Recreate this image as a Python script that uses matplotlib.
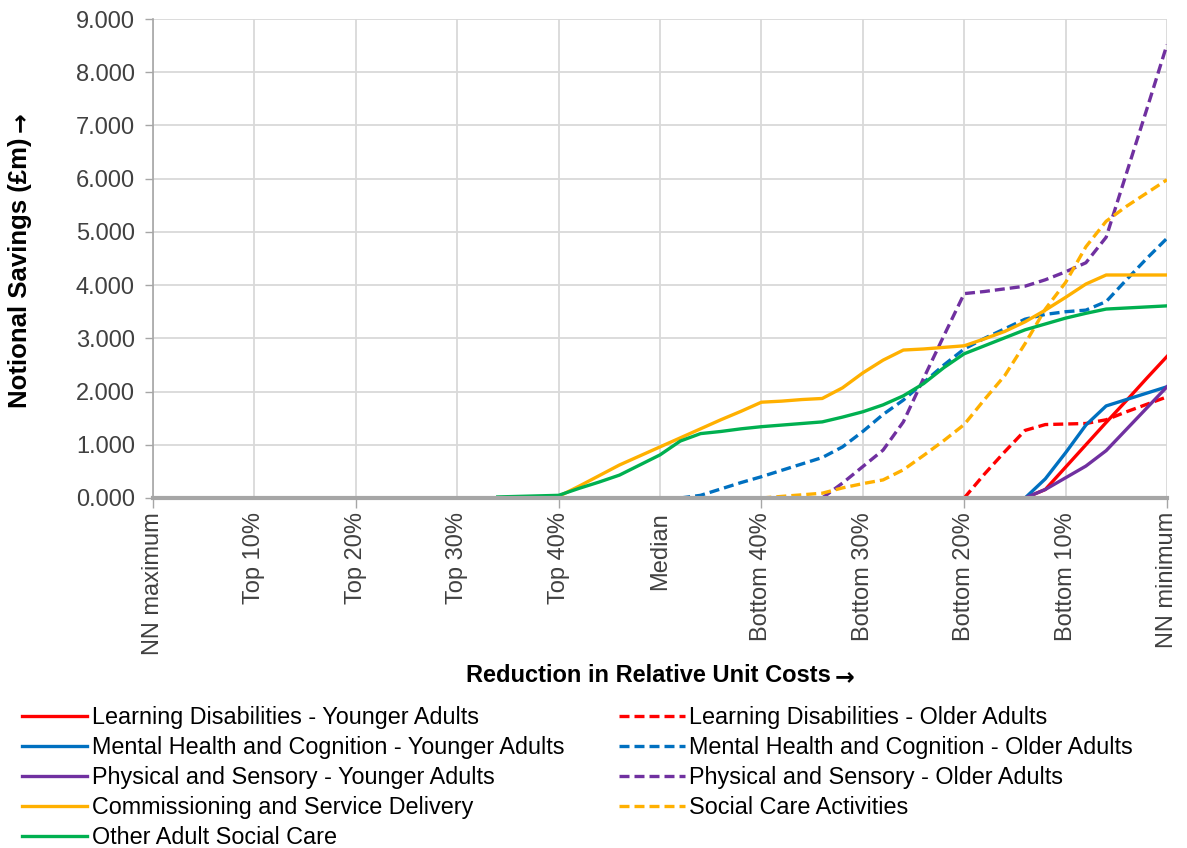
import numpy as np
import matplotlib
matplotlib.use("Agg")
import matplotlib.pyplot as plt
from matplotlib.ticker import FixedLocator, FuncFormatter

plt.rcParams['font.family'] = ['Liberation Sans', 'DejaVu Sans']

# 51 points along the x axis, labelled every 5th
n_points = 51
tick_labels = ["NN maximum", "Top 10%", "Top 20%", "Top 30%", "Top 40%", "Median",
               "Bottom 40%", "Bottom 30%", "Bottom 20%", "Bottom 10%", "NN minimum"]

# each series: first index where it starts, then values from there on
ld_young_start = 43
ld_young = [0.0, 0.16, 0.58, 1.0, 1.42, 1.83, 2.25, 2.66]
ld_old_start = 40
ld_old = [0.0, 0.45, 0.87, 1.27, 1.38, 1.39, 1.40, 1.47, 1.62, 1.76, 1.90]
mh_young_start = 43
mh_young = [0.0, 0.36, 0.85, 1.37, 1.73, 1.85, 1.97, 2.09]
mh_old_start = 26
mh_old = [0.0, 0.05, 0.17, 0.29, 0.40, 0.52, 0.64, 0.76, 0.96, 1.25, 1.57, 1.84, 2.17,
          2.50, 2.80, 3.00, 3.18, 3.36, 3.45, 3.50, 3.53, 3.69, 4.10, 4.50, 4.88]
ps_young_start = 43
ps_young = [0.0, 0.16, 0.38, 0.60, 0.89, 1.29, 1.69, 2.09]
ps_old_start = 33
ps_old = [0.0, 0.28, 0.59, 0.90, 1.43, 2.25, 3.05, 3.84, 3.88, 3.93, 3.98, 4.10, 4.25,
          4.42, 4.90, 6.10, 7.30, 8.52]
csd_start = 20
csd = [0.03, 0.22, 0.42, 0.62, 0.79, 0.96, 1.13, 1.30, 1.47, 1.63, 1.80, 1.82, 1.85,
       1.87, 2.07, 2.35, 2.59, 2.78, 2.80, 2.83, 2.86, 2.99, 3.13, 3.31, 3.53, 3.77,
       4.02, 4.19, 4.19, 4.19, 4.19]
sca_start = 30
sca = [0.0, 0.03, 0.06, 0.09, 0.19, 0.27, 0.34, 0.53, 0.80, 1.08, 1.38, 1.85, 2.30,
       2.90, 3.55, 4.05, 4.72, 5.20, 5.48, 5.73, 5.98]
oasc_start = 17
oasc = [0.02, 0.03, 0.04, 0.05, 0.18, 0.30, 0.43, 0.62, 0.81, 1.07, 1.21, 1.25, 1.30,
        1.34, 1.37, 1.40, 1.43, 1.52, 1.62, 1.75, 1.92, 2.15, 2.45, 2.71, 2.86, 3.01,
        3.16, 3.27, 3.38, 3.47, 3.55, 3.57, 3.59, 3.61]


def pad(start, vals):
    out = np.full(n_points, np.nan)
    out[start:start + len(vals)] = vals
    return out


red = '#FF0000'
blue = '#0070C0'
purple = '#7030A0'
orange = '#FFB000'
green = '#00B050'
grey = '#A6A6A6'

# (label, data, colour, dashed) in drawing order
series = [
    ("Learning Disabilities - Younger Adults", pad(ld_young_start, ld_young), red, False),
    ("Learning Disabilities - Older Adults", pad(ld_old_start, ld_old), red, True),
    ("Mental Health and Cognition - Younger Adults", pad(mh_young_start, mh_young), blue, False),
    ("Mental Health and Cognition - Older Adults", pad(mh_old_start, mh_old), blue, True),
    ("Physical and Sensory - Younger Adults", pad(ps_young_start, ps_young), purple, False),
    ("Physical and Sensory - Older Adults", pad(ps_old_start, ps_old), purple, True),
    ("Commissioning and Service Delivery", pad(csd_start, csd), orange, False),
    ("Social Care Activities", pad(sca_start, sca), orange, True),
    ("Other Adult Social Care", pad(oasc_start, oasc), green, False),
]

W, H = 1187, 848
fig = plt.figure(figsize=(W / 100, H / 100), dpi=100)
ax = fig.add_axes([153 / W, 1 - 498 / H, (1167 - 153) / W, (498 - 19) / H])

x = np.arange(n_points)
handles = {}
for label, vals, col, dashed in series:
    if dashed:
        ln, = ax.plot(x, vals, color=col, lw=2.4, dashes=(3.0, 1.5), label=label)
    else:
        ln, = ax.plot(x, vals, color=col, lw=2.4, label=label)
    handles[label] = ln

ax.set_xlim(0, n_points - 1)
ax.set_ylim(0, 9)

# y axis
ax.set_yticks(range(0, 10))
ax.yaxis.set_major_formatter(FuncFormatter(lambda v, p: f"{v:.3f}"))
ax.tick_params(axis='y', length=6, width=1, color=grey, labelsize=17, labelcolor='#404040', pad=7)

# x axis: labels + grid every 5 points, tick marks every 10
ax.set_xticks(range(0, n_points, 5))
ax.set_xticklabels(tick_labels, rotation=90, va='top', ha='center')
ax.tick_params(axis='x', which='major', length=0, labelsize=17, labelcolor='#404040', pad=10)
ax.xaxis.set_minor_locator(FixedLocator(range(0, n_points, 10)))
ax.xaxis.remove_overlapping_locs = False
ax.tick_params(axis='x', which='minor', length=7, width=1, color=grey)

ax.grid(True, which='major', color='#D9D9D9', lw=1.3)
ax.set_axisbelow(True)
for s in ['top', 'right']:
    ax.spines[s].set_visible(False)
ax.spines['left'].set_color(grey)
ax.spines['left'].set_linewidth(1.2)
ax.spines['bottom'].set_color(grey)
ax.spines['bottom'].set_linewidth(3)

# axis titles, arrow drawn in DejaVu so it is full size
ytitle = fig.text(20 / W, 1 - 408 / H, "Notional Savings (£m)", rotation=90,
                  ha='center', va='bottom', fontsize=18.5, fontweight='bold')
fig.canvas.draw()
bb = ytitle.get_window_extent(fig.canvas.get_renderer())
fig.text(20 / W, (bb.y1 + 5) / H, "→", rotation=90, family='DejaVu Sans',
         ha='center', va='bottom', fontsize=17, fontweight='bold')
fig.text(831 / W, 1 - 676 / H, "Reduction in Relative Unit Costs",
         ha='right', va='center', fontsize=17, fontweight='bold')
fig.text(835 / W, 1 - 677 / H, "→", family='DejaVu Sans',
         ha='left', va='center', fontsize=17, fontweight='bold')

order = ["Learning Disabilities - Younger Adults",
         "Mental Health and Cognition - Younger Adults",
         "Physical and Sensory - Younger Adults",
         "Commissioning and Service Delivery",
         "Other Adult Social Care",
         "Learning Disabilities - Older Adults",
         "Mental Health and Cognition - Older Adults",
         "Physical and Sensory - Older Adults",
         "Social Care Activities"]
fig.legend([handles[k] for k in order], order, ncol=2, loc='upper left',
           bbox_to_anchor=(22 / W, 1 - 706 / H), frameon=False,
           fontsize=16.8, handlelength=2.8, handletextpad=0.2,
           labelspacing=0.3, columnspacing=2.35, borderpad=0, borderaxespad=0)

fig.savefig("out.png", dpi=100)
